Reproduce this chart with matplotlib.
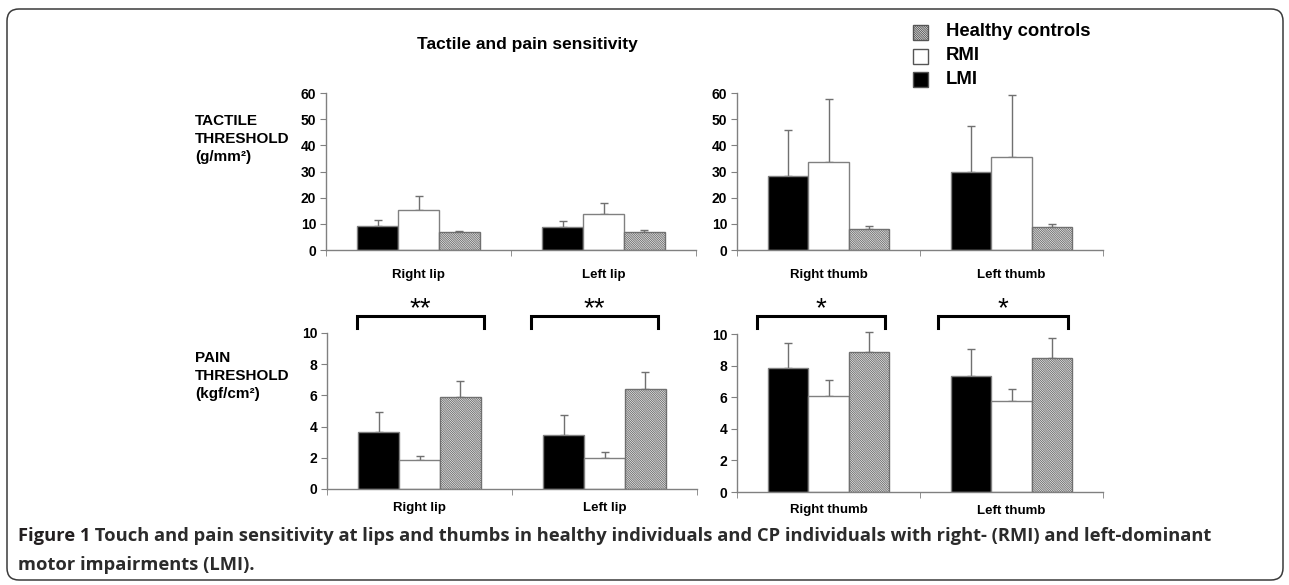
import matplotlib
matplotlib.use("Agg")
import matplotlib.pyplot as plt
from matplotlib.patches import FancyBboxPatch, Rectangle
import numpy as np

plt.rcParams['font.family'] = ['Liberation Sans', 'DejaVu Sans']
plt.rcParams['hatch.linewidth'] = 0.7

# ---------------- data ----------------
groups = ['LMI', 'RMI', 'Healthy controls']
lip_categories = ['Right lip', 'Left lip']
thumb_categories = ['Right thumb', 'Left thumb']

tactile_lip_lmi = [9.2, 8.8]
tactile_lip_lmi_err = [2.3, 2.4]
tactile_lip_rmi = [15.3, 13.9]
tactile_lip_rmi_err = [5.4, 4.0]
tactile_lip_hc = [6.7, 6.9]
tactile_lip_hc_err = [0.7, 0.9]

tactile_thumb_lmi = [28.2, 30.0]
tactile_thumb_lmi_err = [17.8, 17.4]
tactile_thumb_rmi = [33.7, 35.6]
tactile_thumb_rmi_err = [23.9, 23.5]
tactile_thumb_hc = [8.0, 8.6]
tactile_thumb_hc_err = [1.3, 1.2]

pain_lip_lmi = [3.66, 3.47]
pain_lip_lmi_err = [1.29, 1.29]
pain_lip_rmi = [1.83, 1.98]
pain_lip_rmi_err = [0.27, 0.36]
pain_lip_hc = [5.92, 6.38]
pain_lip_hc_err = [1.01, 1.14]

pain_thumb_lmi = [7.86, 7.36]
pain_thumb_lmi_err = [1.55, 1.67]
pain_thumb_rmi = [6.07, 5.79]
pain_thumb_rmi_err = [1.01, 0.76]
pain_thumb_hc = [8.88, 8.46]
pain_thumb_hc_err = [1.22, 1.27]

tactile_ticks = [0, 10, 20, 30, 40, 50, 60]
pain_ticks = [0, 2, 4, 6, 8, 10]

lip_brackets = [(-0.34, 0.35), (0.60, 1.29)]
lip_stars = ['**', '**']
thumb_brackets = [(-0.39, 0.31), (0.60, 1.31)]
thumb_stars = ['*', '*']

title = 'Tactile and pain sensitivity'
caption_bold = 'Figure 1'
caption_line1 = ('Touch and pain sensitivity at lips and thumbs in healthy individuals and CP '
                 'individuals with right- (RMI) and left-dominant')
caption_line2 = 'motor impairments (LMI).'

# ---------------- figure ----------------
W, H = 1289, 585
fig = plt.figure(figsize=(W / 100, H / 100), dpi=100)

# overlay in pixel coordinates for frame and text
ov = fig.add_axes([0, 0, 1, 1], zorder=0)
ov.set_xlim(0, W)
ov.set_ylim(H, 0)
ov.axis('off')
ov.patch.set_alpha(0)

frame = FancyBboxPatch((7, 9), 1276, 571, boxstyle='round,pad=0,rounding_size=12',
                       facecolor='none', edgecolor='#3a3a3a', linewidth=1.1)
ov.add_patch(frame)

def add_ax(x0, x1, ytop, ybot):
    return fig.add_axes([x0 / W, 1 - ybot / H, (x1 - x0) / W, (ybot - ytop) / H], zorder=2)

BAR_W = 0.22
GRAY = '#808080'
HATCH = '\\' * 15
styles = [dict(facecolor='black', edgecolor=GRAY),
          dict(facecolor='white', edgecolor=GRAY),
          dict(facecolor='white', edgecolor='#707070', hatch=HATCH)]

def panel(ax, cats, series, errs, ymax, ticks, label_pad):
    x = np.arange(len(cats))
    offs = [-BAR_W, 0, BAR_W]
    for vals, e, off, st in zip(series, errs, offs, styles):
        ax.bar(x + off, vals, width=BAR_W, linewidth=1.0, zorder=2, **st)
        cont = ax.errorbar(x + off, vals, yerr=[np.zeros(len(vals)), e], fmt='none',
                           ecolor='#707070', elinewidth=1.0, capsize=3, capthick=1.0, zorder=1)
        for child in cont.get_children():
            child.set_clip_on(False)
    ax.set_xlim(-0.5, len(cats) - 0.5)
    ax.set_ylim(0, ymax)
    ax.set_yticks(ticks)
    ax.set_yticklabels([str(t) for t in ticks], fontsize=10, fontweight='bold')
    ax.set_xticks(x)
    ax.set_xticklabels(cats, fontsize=9.5, fontweight='bold')
    ax.set_xticks(np.arange(len(cats) + 1) - 0.5, minor=True)
    ax.tick_params(axis='x', which='major', length=0, pad=label_pad)
    ax.tick_params(axis='x', which='minor', length=4, color=GRAY, direction='out')
    ax.tick_params(axis='y', length=4, color=GRAY, pad=3)
    for s in ['top', 'right']:
        ax.spines[s].set_visible(False)
    for s in ['left', 'bottom']:
        ax.spines[s].set_color(GRAY)
        ax.spines[s].set_linewidth(1.0)
    ax.patch.set_alpha(0)

def brackets(ax, spans, stars, ytop, ybot, ystar):
    for (a, b), s in zip(spans, stars):
        ax.plot([a, a, b, b], [ybot, ytop, ytop, ybot], color='black', lw=2.2,
                clip_on=False, solid_joinstyle='miter')
        ax.text((a + b) / 2, ystar, s, ha='center', va='center', fontsize=20,
                clip_on=False)

ax1 = add_ax(326, 696, 93, 250)
panel(ax1, lip_categories, [tactile_lip_lmi, tactile_lip_rmi, tactile_lip_hc],
      [tactile_lip_lmi_err, tactile_lip_rmi_err, tactile_lip_hc_err], 60, tactile_ticks, 14)

ax2 = add_ax(737, 1103, 93, 250)
panel(ax2, thumb_categories, [tactile_thumb_lmi, tactile_thumb_rmi, tactile_thumb_hc],
      [tactile_thumb_lmi_err, tactile_thumb_rmi_err, tactile_thumb_hc_err], 60, tactile_ticks, 14)

ax3 = add_ax(327, 697, 333, 489)
panel(ax3, lip_categories, [pain_lip_lmi, pain_lip_rmi, pain_lip_hc],
      [pain_lip_lmi_err, pain_lip_rmi_err, pain_lip_hc_err], 10, pain_ticks, 9)
brackets(ax3, lip_brackets, lip_stars, 11.09, 10.35, 11.55)

ax4 = add_ax(737, 1103, 334, 492)
panel(ax4, thumb_categories, [pain_thumb_lmi, pain_thumb_rmi, pain_thumb_hc],
      [pain_thumb_lmi_err, pain_thumb_rmi_err, pain_thumb_hc_err], 10, pain_ticks, 9)
brackets(ax4, thumb_brackets, thumb_stars, 11.14, 10.4, 11.6)

# title
ov.text(527, 44, title, ha='center', va='center', fontsize=12.5, fontweight='bold')

# legend (drawn manually)
leg_rows = [('Healthy controls', 2, 32), ('RMI', 1, 56), ('LMI', 0, 79)]
for lab, idx, yc in leg_rows:
    st = dict(styles[idx])
    st['edgecolor'] = '#555555'
    ov.add_patch(Rectangle((913, yc - 7), 15, 15, linewidth=1.0, **st))
    ov.text(946, yc, lab, ha='left', va='center', fontsize=13.3, fontweight='bold')

# row labels
ov.text(195, 139, 'TACTILE\nTHRESHOLD\n(g/mm²)', ha='left', va='center', fontsize=11,
        fontweight='bold', linespacing=1.4)
ov.text(195, 376, 'PAIN\nTHRESHOLD\n(kgf/cm²)', ha='left', va='center', fontsize=11,
        fontweight='bold', linespacing=1.4)

# caption
cap_font = ['Open Sans', 'DejaVu Sans']
t1 = ov.text(18, 541, caption_bold, ha='left', va='baseline', fontsize=13.25,
             fontweight='bold', family=cap_font, color='#231f20')
ov.annotate(' ' + caption_line1, xy=(1, 0), xycoords=t1, ha='left', va='bottom',
            fontsize=13.25, fontweight='bold', family=cap_font, color='#2b2b2b')
ov.text(18, 570, caption_line2, ha='left', va='baseline', fontsize=13.25,
        fontweight='bold', family=cap_font, color='#2b2b2b')

fig.savefig('out.png', dpi=100)
